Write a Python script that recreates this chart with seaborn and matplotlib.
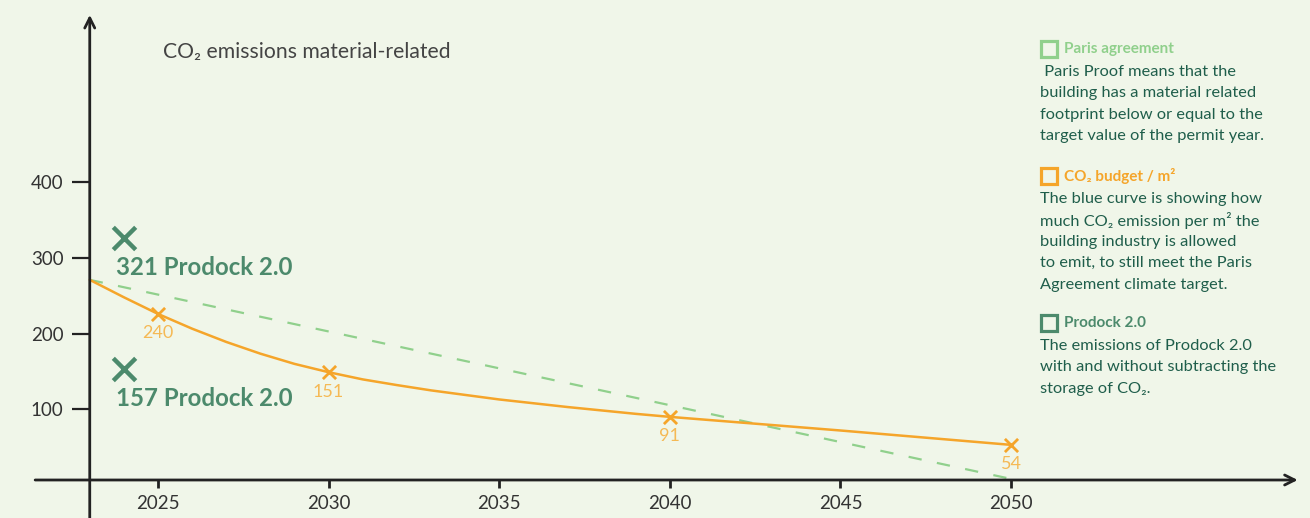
import pandas as pd
import matplotlib.pyplot as plt
import seaborn as sns

# CO2 budget curve (one per year up to 2040)
curve_years = [2023, 2024, 2025, 2026, 2027, 2028, 2029, 2030, 2031, 2032,
               2033, 2034, 2035, 2036, 2037, 2038, 2039, 2040, 2045, 2050]
curve_values = [271, 248, 226, 206.5, 189, 173.5, 160, 149, 139.5, 132,
                125, 119, 113, 108, 103, 98.5, 94, 90, 72, 53]

# marked points on the budget curve
marker_years = [2025, 2030, 2040, 2050]
marker_values = [226, 149, 90, 53]
marker_labels = ['240', '151', '91', '54']

# Paris agreement line
paris_years = [2023, 2050]
paris_values = [271, 8]

# Prodock 2.0 points
prodock_years = [2024, 2024]
prodock_values = [326, 153]
prodock_labels = ['321 Prodock 2.0', '157 Prodock 2.0']

x_ticks = [2025, 2030, 2035, 2040, 2045, 2050]
y_ticks = [100, 200, 300, 400]

title = 'CO\u2082 emissions material-related'
legend_heads = ['Paris agreement', 'CO\u2082 budget / m\u00b2', 'Prodock 2.0']
legend_bodies = [
    [' Paris Proof means that the', 'building has a material related',
     'footprint below or equal to the', 'target value of the permit year.'],
    ['The blue curve is showing how', 'much CO\u2082 emission per m\u00b2 the',
     'building industry is allowed', 'to emit, to still meet the Paris',
     'Agreement climate target.'],
    ['The emissions of Prodock 2.0', 'with and without subtracting the',
     'storage of CO\u2082.'],
]

BG = '#f0f6e9'
ORANGE = '#f5a52a'
ORANGE_LIGHT = '#f5b955'
GREEN_DASH = '#90d08c'
PRODOCK = '#4c8a6c'
BODY = '#1f5e4b'
AXIS = '#222222'
head_colors = ['#90d08c', ORANGE, PRODOCK]

sns.set_theme(style='white', rc={'axes.facecolor': BG, 'figure.facecolor': BG})
plt.rcParams['font.family'] = ['Lato', 'DejaVu Sans']

fig = plt.figure(figsize=(13.1, 5.18), dpi=100)
ax = fig.add_axes([0, 0, 1, 1])
ax.set_xlim(2020.37, 2058.76)
ax.set_ylim(-43.6, 640.7)

curve_df = pd.DataFrame({'year': curve_years, 'value': curve_values})
paris_df = pd.DataFrame({'year': paris_years, 'value': paris_values})
marker_df = pd.DataFrame({'year': marker_years, 'value': marker_values})
prodock_df = pd.DataFrame({'year': prodock_years, 'value': prodock_values})

sns.lineplot(data=paris_df, x='year', y='value', ax=ax, color=GREEN_DASH,
             lw=1.6, dashes=[(6, 7)], style=[0, 0], legend=False)
sns.lineplot(data=curve_df, x='year', y='value', ax=ax, color=ORANGE, lw=1.8)
sns.scatterplot(data=marker_df, x='year', y='value', ax=ax, marker='x',
                s=90, linewidth=2, color=ORANGE, zorder=4)
sns.scatterplot(data=prodock_df, x='year', y='value', ax=ax, marker='x',
                s=260, linewidth=3.2, color=PRODOCK, zorder=4)

for x, y, lab in zip(marker_years, marker_values, marker_labels):
    ax.annotate(lab, (x, y), xytext=(0, -14), textcoords='offset points',
                ha='center', va='center', fontsize=13, color=ORANGE_LIGHT)

for y, lab in zip(prodock_values, prodock_labels):
    ax.annotate(lab, (2023.77, y), xytext=(0, -21), textcoords='offset points',
                ha='left', va='center', fontsize=17.3, fontweight='bold',
                color=PRODOCK)

# axes with arrows
for s in ax.spines.values():
    s.set_visible(False)
ax.spines['left'].set_position(('data', 2023))
ax.spines['bottom'].set_position(('data', 6.6))
ax.annotate('', xy=(2023, 621), xytext=(2023, -43.6),
            arrowprops=dict(arrowstyle='->', lw=2, color=AXIS,
                            mutation_scale=18, shrinkA=0, shrinkB=0))
ax.annotate('', xy=(2058.4, 6.6), xytext=(2021.4, 6.6),
            arrowprops=dict(arrowstyle='->', lw=2, color=AXIS,
                            mutation_scale=18, shrinkA=0, shrinkB=0))

ax.set_xticks(x_ticks)
ax.set_yticks(y_ticks)
ax.set_xticklabels([str(t) for t in x_ticks])
ax.set_yticklabels([str(t) for t in y_ticks])
ax.tick_params(axis='x', direction='out', length=6, width=2, color=AXIS,
               pad=5, labelsize=13.5, labelcolor='#333333', bottom=True)
ax.tick_params(axis='y', direction='out', length=13, width=1.6, color=AXIS,
               pad=6, labelsize=13.5, labelcolor='#333333', left=True)
ax.set_xlabel('')
ax.set_ylabel('')

fig.text(163 / 1310, 1 - 52 / 518, title, fontsize=15.2, color='#444444',
         ha='left', va='center')

# side legend
W, H = 1310, 518
head_y = [49, 176, 323]
line_gap = 21.4
for head, body, hy, hc in zip(legend_heads, legend_bodies, head_y, head_colors):
    ax.plot([1049 / W], [1 - hy / H], transform=ax.transAxes, marker='s',
            ms=11, mfc='none', mec=hc, mew=2.3, clip_on=False)
    fig.text(1064 / W, 1 - hy / H, head, fontsize=11, fontweight='bold',
             color=hc, ha='left', va='center')
    for i, line in enumerate(body):
        fig.text(1040 / W, 1 - (hy + 23 + i * line_gap) / H, line,
                 fontsize=11.8, color=BODY, ha='left', va='center')

fig.savefig('out.png', dpi=100, facecolor=BG)
